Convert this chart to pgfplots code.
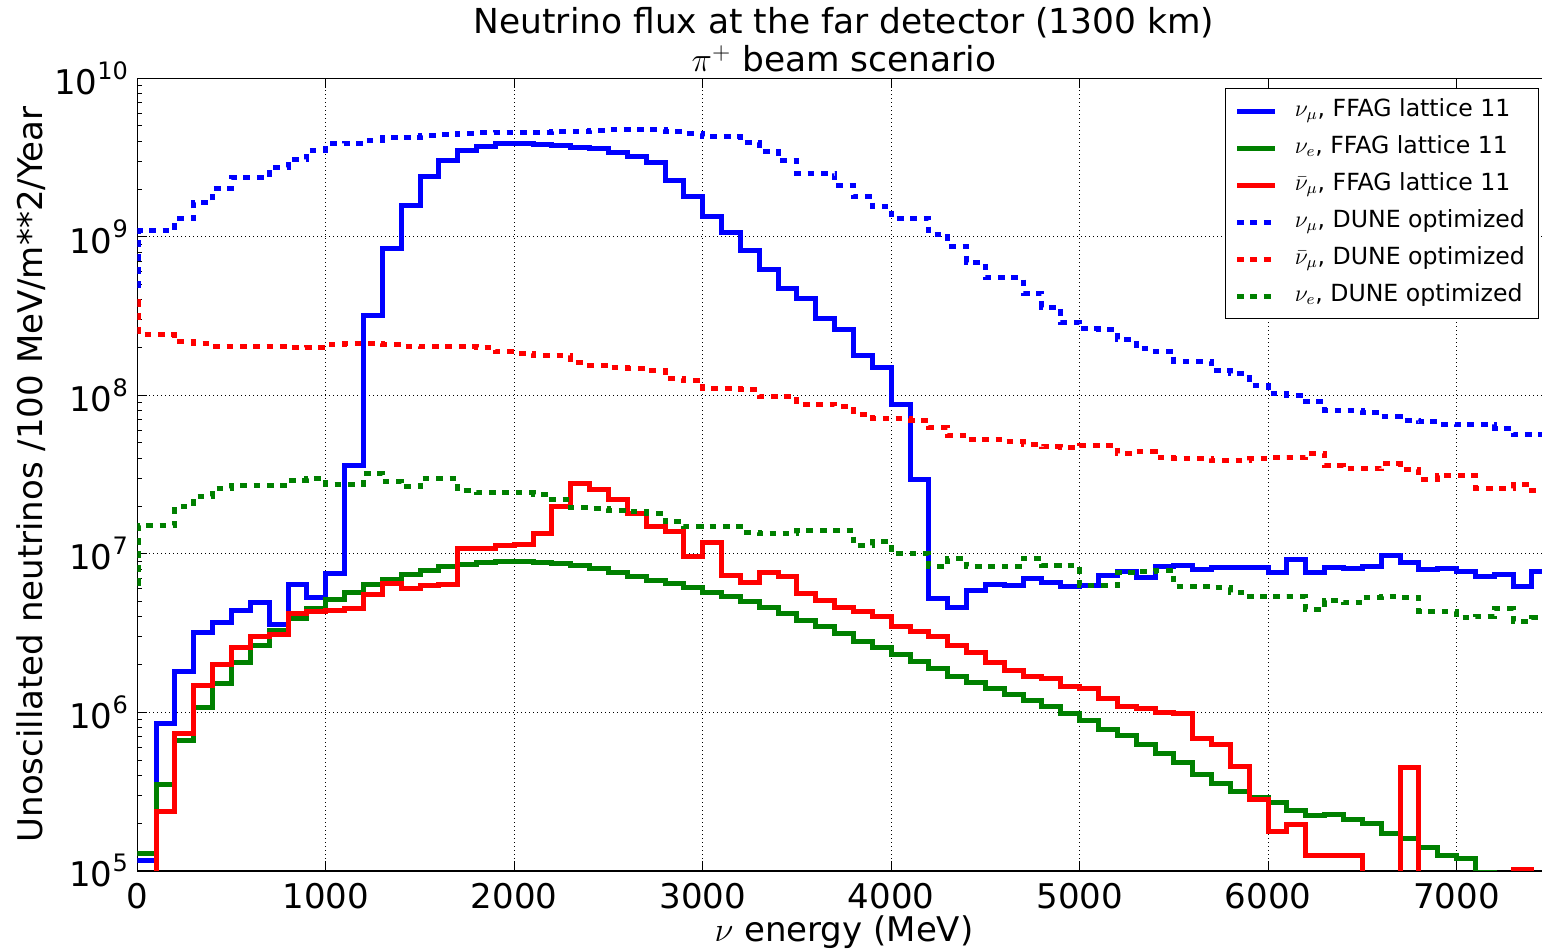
\documentclass[border=0pt]{standalone}
\usepackage{fontspec}
\setmainfont{DejaVu Sans}
\usepackage{pgfplots}
\pgfplotsset{compat=1.18}
\definecolor{mplgreen}{rgb}{0,0.5,0}
\newcommand{\sups}[1]{\raisebox{0.45em}{\fontsize{12bp}{12bp}\selectfont #1}}
\begin{document}
\begin{tikzpicture}
\begin{axis}[
 name=ax,
 at={(0,0)}, anchor=south west,
 scale only axis,
 width=706.75bp, height=396.25bp,
 ymode=log,
 xmin=0, xmax=7500, ymin=1e5, ymax=1e10,
 xtick={0,1000,2000,3000,4000,5000,6000,7000},
 xticklabels={0,1000,2000,3000,4000,5000,6000,7000},
 ytick={1e5,1e6,1e7,1e8,1e9,1e10},
 yticklabels={10\sups{5},10\sups{6},10\sups{7},10\sups{8},10\sups{9},10\sups{10}},
 minor ytick={2e5,3e5,4e5,5e5,6e5,7e5,8e5,9e5,2e6,3e6,4e6,5e6,6e6,7e6,8e6,9e6,2e7,3e7,4e7,5e7,6e7,7e7,8e7,9e7,2e8,3e8,4e8,5e8,6e8,7e8,8e8,9e8,2e9,3e9,4e9,5e9,6e9,7e9,8e9,9e9},
 minor x tick num=0,
 tick align=inside,
 major tick length=5bp, minor tick length=2.5bp,
 every tick/.style={black, line width=0.5bp},
 grid=major,
 major grid style={black, line width=0.5bp, dash pattern=on 0.5bp off 1.5bp},
 axis line style={line width=0.75bp},
 ticklabel style={font=\fontsize{17bp}{20bp}\selectfont},
 xticklabel style={inner sep=0pt, yshift=-6bp, text depth=0pt},
 yticklabel style={inner sep=0pt, xshift=-4.5bp},
 clip mode=individual,
 legend cell align=left,
 legend style={
   at={(0.9915,0.9877)}, anchor=north east,
   draw=black, line width=0.5bp, fill=white,
   font=\fontsize{11.8bp}{13bp}\selectfont,
   inner xsep=4.7bp, inner ysep=3.25bp,
   row sep=2.5bp,
   nodes={inner xsep=2bp, inner ysep=2bp, text height=8.5bp, text depth=3.5bp},
   /tikz/every odd column/.append style={column sep=6.7bp},
 },
 legend image code/.code={\draw[#1] (0bp,0bp) -- (19bp,0bp);},
 solid/.style={line width=2.5bp},
 dots/.style={line width=2.5bp, line cap=butt, dash pattern=on 3.35bp off 3.35bp},
]
% nu_mu FFAG
\addplot[const plot mark left, blue, solid] coordinates {
(0,1.16e5)(100,8.5e5)(200,1.8e6)(300,3.2e6)(400,3.7e6)(500,4.4e6)(600,4.9e6)(700,3.6e6)(800,6.4e6)(900,5.3e6)
(1000,7.5e6)(1100,3.6e7)(1200,3.2e8)(1300,8.45e8)(1400,1.58e9)(1500,2.4e9)(1600,3.05e9)(1700,3.5e9)(1800,3.7e9)(1900,3.9e9)
(2000,3.9e9)(2100,3.8e9)(2200,3.74e9)(2300,3.67e9)(2400,3.6e9)(2500,3.39e9)(2600,3.23e9)(2700,2.93e9)(2800,2.28e9)(2900,1.79e9)
(3000,1.34e9)(3100,1.06e9)(3200,8.2e8)(3300,6.25e8)(3400,4.7e8)(3500,4.1e8)(3600,3.05e8)(3700,2.6e8)(3800,1.79e8)(3900,1.49e8)
(4000,8.8e7)(4100,2.95e7)(4200,5.2e6)(4300,4.6e6)(4400,5.9e6)(4500,6.4e6)(4600,6.3e6)(4700,7.0e6)(4800,6.6e6)(4900,6.2e6)
(5000,6.3e6)(5100,7.3e6)(5200,7.7e6)(5300,7.1e6)(5400,8.3e6)(5500,8.45e6)(5600,7.95e6)(5700,8.25e6)(5800,8.2e6)(5900,8.15e6)
(6000,7.6e6)(6100,9.2e6)(6200,7.6e6)(6300,8.2e6)(6400,8.05e6)(6500,8.3e6)(6600,9.8e6)(6700,8.75e6)(6800,8.0e6)(6900,8.1e6)
(7000,7.7e6)(7100,7.2e6)(7200,7.45e6)(7300,6.2e6)(7400,7.7e6)(7500,7.7e6)};
\addlegendentry{$\nu_\mu$, FFAG lattice 11}
% nu_e FFAG
\addplot[const plot mark left, mplgreen, solid] coordinates {
(0,1.29e5)(100,3.49e5)(200,6.6e5)(300,1.07e6)(400,1.52e6)(500,2.06e6)(600,2.64e6)(700,3.26e6)(800,3.9e6)(900,4.5e6)
(1000,5.14e6)(1100,5.74e6)(1200,6.4e6)(1300,6.9e6)(1400,7.4e6)(1500,7.9e6)(1600,8.3e6)(1700,8.55e6)(1800,8.75e6)(1900,8.9e6)
(2000,8.9e6)(2100,8.8e6)(2200,8.7e6)(2300,8.45e6)(2400,8.1e6)(2500,7.6e6)(2600,7.2e6)(2700,6.8e6)(2800,6.5e6)(2900,6.1e6)
(3000,5.74e6)(3100,5.4e6)(3200,4.97e6)(3300,4.6e6)(3400,4.2e6)(3500,3.8e6)(3600,3.48e6)(3700,3.16e6)(3800,2.8e6)(3900,2.58e6)
(4000,2.32e6)(4100,2.1e6)(4200,1.88e6)(4300,1.69e6)(4400,1.55e6)(4500,1.41e6)(4600,1.3e6)(4700,1.19e6)(4800,1.08e6)(4900,9.8e5)
(5000,8.85e5)(5100,7.8e5)(5200,7.1e5)(5300,6.3e5)(5400,5.5e5)(5500,4.8e5)(5600,4.05e5)(5700,3.54e5)(5800,3.18e5)(5900,2.9e5)
(6000,2.7e5)(6100,2.4e5)(6200,2.24e5)(6300,2.25e5)(6400,2.1e5)(6500,1.98e5)(6600,1.73e5)(6700,1.61e5)(6800,1.41e5)(6900,1.25e5)
(7000,1.19e5)(7100,9.8e4)(7200,1e3)(7500,1e3)};
\addlegendentry{$\nu_e$, FFAG lattice 11}
% anti nu_mu FFAG
\addplot[const plot mark left, red, solid] coordinates {
(0,1e3)(100,2.37e5)(200,7.3e5)(300,1.48e6)(400,2.0e6)(500,2.58e6)(600,3.0e6)(700,3.1e6)(800,4.2e6)(900,4.3e6)
(1000,4.36e6)(1100,4.5e6)(1200,5.5e6)(1300,6.5e6)(1400,6.0e6)(1500,6.3e6)(1600,6.4e6)(1700,1.08e7)(1800,1.08e7)(1900,1.13e7)
(2000,1.14e7)(2100,1.35e7)(2200,1.98e7)(2300,2.77e7)(2400,2.54e7)(2500,2.2e7)(2600,1.8e7)(2700,1.48e7)(2800,1.39e7)(2900,9.6e6)
(3000,1.17e7)(3100,7.25e6)(3200,6.6e6)(3300,7.57e6)(3400,7.15e6)(3500,5.6e6)(3600,5.1e6)(3700,4.6e6)(3800,4.3e6)(3900,4.0e6)
(4000,3.48e6)(4100,3.24e6)(4200,3.0e6)(4300,2.64e6)(4400,2.4e6)(4500,2.07e6)(4600,1.84e6)(4700,1.69e6)(4800,1.63e6)(4900,1.46e6)
(5000,1.41e6)(5100,1.22e6)(5200,1.09e6)(5300,1.05e6)(5400,1.0e6)(5500,9.8e5)(5600,6.8e5)(5700,6.3e5)(5800,4.55e5)(5900,2.8e5)
(6000,1.78e5)(6100,1.96e5)(6200,1.25e5)(6300,1.25e5)(6400,1.25e5)(6500,1e3)(6700,4.47e5)(6800,1e3)(7300,1.02e5)(7400,1e3)(7500,1e3)};
\addlegendentry{$\bar{\nu}_\mu$, FFAG lattice 11}
% nu_mu DUNE
\addplot[const plot mark left, blue, dots] coordinates {
(0,4.9e8)(8,1.09e9)(100,1.09e9)(200,1.3e9)(300,1.65e9)(400,2.02e9)(500,2.36e9)(600,2.36e9)(700,2.74e9)(800,3.08e9)(900,3.52e9)
(1000,3.85e9)(1100,3.9e9)(1200,4.07e9)(1300,4.2e9)(1400,4.25e9)(1500,4.35e9)(1600,4.4e9)(1700,4.5e9)(1800,4.52e9)(1900,4.55e9)
(2000,4.55e9)(2100,4.55e9)(2200,4.6e9)(2300,4.6e9)(2400,4.7e9)(2500,4.76e9)(2600,4.75e9)(2700,4.72e9)(2800,4.6e9)(2900,4.5e9)
(3000,4.28e9)(3100,4.28e9)(3200,3.93e9)(3300,3.47e9)(3400,3.02e9)(3500,2.51e9)(3600,2.51e9)(3700,2.12e9)(3800,1.79e9)(3900,1.55e9)
(4000,1.31e9)(4100,1.31e9)(4200,1.04e9)(4300,8.7e8)(4400,6.9e8)(4500,5.5e8)(4600,5.5e8)(4700,4.4e8)(4800,3.6e8)(4900,2.88e8)
(5000,2.62e8)(5100,2.6e8)(5200,2.25e8)(5300,1.97e8)(5400,1.9e8)(5500,1.64e8)(5600,1.64e8)(5700,1.44e8)(5800,1.37e8)(5900,1.16e8)
(6000,1.02e8)(6100,1.0e8)(6200,9.1e7)(6300,8.05e7)(6400,8.0e7)(6500,7.75e7)(6600,7.3e7)(6700,6.97e7)(6800,6.8e7)(6900,6.57e7)
(7000,6.5e7)(7100,6.5e7)(7200,6.2e7)(7300,5.65e7)(7400,5.65e7)(7500,5.65e7)};
\addlegendentry{$\nu_\mu$, DUNE optimized}
% anti nu_mu DUNE
\addplot[const plot mark left, red, dots] coordinates {
(0,3.9e8)(8,2.42e8)(100,2.42e8)(200,2.17e8)(300,2.12e8)(400,2.04e8)(500,2.04e8)(600,2.03e8)(700,2.03e8)(800,1.99e8)(900,2.0e8)
(1000,2.09e8)(1100,2.12e8)(1200,2.12e8)(1300,2.1e8)(1400,2.04e8)(1500,2.03e8)(1600,2.03e8)(1700,2.03e8)(1800,2.0e8)(1900,1.88e8)
(2000,1.84e8)(2100,1.77e8)(2200,1.77e8)(2300,1.6e8)(2400,1.55e8)(2500,1.49e8)(2600,1.48e8)(2700,1.43e8)(2800,1.28e8)(2900,1.24e8)
(3000,1.1e8)(3100,1.1e8)(3200,1.08e8)(3300,9.86e7)(3400,9.8e7)(3500,8.75e7)(3600,8.75e7)(3700,8.5e7)(3800,7.57e7)(3900,7.15e7)
(4000,7.1e7)(4100,6.97e7)(4200,6.3e7)(4300,5.6e7)(4400,5.26e7)(4500,5.26e7)(4600,5.08e7)(4700,4.9e7)(4800,4.72e7)(4900,4.7e7)
(5000,4.85e7)(5100,4.85e7)(5200,4.3e7)(5300,4.4e7)(5400,4.05e7)(5500,4.0e7)(5600,4.0e7)(5700,3.9e7)(5800,3.9e7)(5900,4.0e7)
(6000,4.05e7)(6100,4.05e7)(6200,4.3e7)(6300,3.6e7)(6400,3.45e7)(6500,3.45e7)(6600,3.7e7)(6700,3.4e7)(6800,2.95e7)(6900,3.1e7)
(7000,3.1e7)(7100,2.6e7)(7200,2.6e7)(7300,2.75e7)(7400,2.5e7)(7500,2.5e7)};
\addlegendentry{$\bar{\nu}_\mu$, DUNE optimized}
% nu_e DUNE
\addplot[const plot mark left, mplgreen, dots] coordinates {
(0,6.5e6)(8,1.51e7)(100,1.51e7)(200,2.0e7)(300,2.3e7)(400,2.58e7)(500,2.7e7)(600,2.7e7)(700,2.7e7)(800,2.9e7)(900,2.98e7)
(1000,2.73e7)(1100,2.73e7)(1200,3.2e7)(1300,2.85e7)(1400,2.64e7)(1500,2.98e7)(1600,2.98e7)(1700,2.49e7)(1800,2.42e7)(1900,2.42e7)
(2000,2.42e7)(2100,2.38e7)(2200,2.2e7)(2300,1.95e7)(2400,1.93e7)(2500,1.88e7)(2600,1.84e7)(2700,1.8e7)(2800,1.59e7)(2900,1.48e7)
(3000,1.48e7)(3100,1.48e7)(3200,1.37e7)(3300,1.34e7)(3400,1.35e7)(3500,1.41e7)(3600,1.41e7)(3700,1.41e7)(3800,1.13e7)(3900,1.19e7)
(4000,1.0e7)(4100,1.0e7)(4200,8.3e6)(4300,9.3e6)(4400,8.3e6)(4500,8.3e6)(4600,8.3e6)(4700,9.3e6)(4800,8.45e6)(4900,8.45e6)
(5000,6.3e6)(5100,6.3e6)(5200,7.6e6)(5300,7.75e6)(5400,7.9e6)(5500,6.25e6)(5600,6.25e6)(5700,6.15e6)(5800,5.74e6)(5900,5.4e6)
(6000,5.35e6)(6100,5.35e6)(6200,4.45e6)(6300,5.1e6)(6400,4.9e6)(6500,5.3e6)(6600,5.35e6)(6700,5.3e6)(6800,4.3e6)(6900,4.3e6)
(7000,3.95e6)(7100,4.05e6)(7200,4.5e6)(7300,3.75e6)(7400,3.95e6)(7500,3.95e6)};
\addlegendentry{$\nu_e$, DUNE optimized}
\end{axis}
\node[font=\fontsize{17.2bp}{20bp}\selectfont, anchor=base] at ([yshift=22.6bp]ax.north) {Neutrino flux at the far detector (1300 km)};
\node[font=\fontsize{17.2bp}{20bp}\selectfont, anchor=base] at ([yshift=3.2bp]ax.north) {$\pi^+$ beam scenario};
\node[font=\fontsize{17bp}{20bp}\selectfont, anchor=base] at ([yshift=-35.5bp]ax.south) {$\nu$ energy (MeV)};
\node[font=\fontsize{17bp}{20bp}\selectfont, anchor=base, rotate=90] at ([xshift=-47.6bp]ax.west) {Unoscillated neutrinos /100 MeV/m**2/Year};
\pgfresetboundingbox
\useasboundingbox (-68.65bp,-39.5bp) rectangle (702.35bp,435.4bp);
\end{tikzpicture}
\end{document}
